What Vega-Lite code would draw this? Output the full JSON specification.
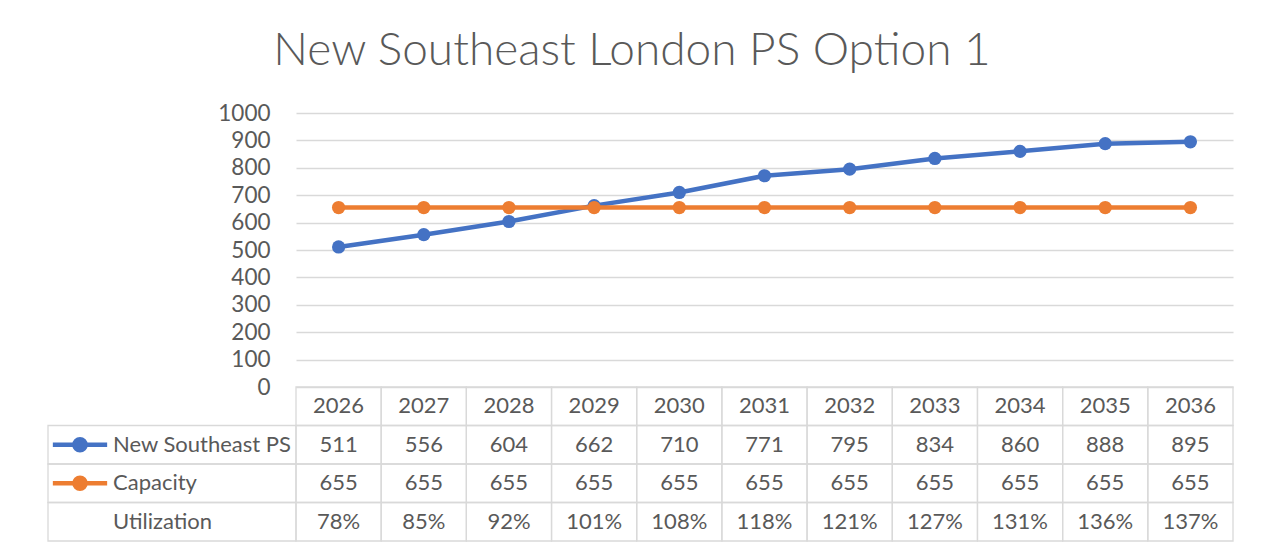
{
  "$schema": "https://vega.github.io/schema/vega-lite/v6.json",
  "padding": {"left": 44, "top": 28, "right": 30, "bottom": 10},
  "background": "white",
  "config": {"font": "Lato", "view": {"stroke": null}},
  "title": {"text": "New Southeast London PS Option 1", "fontSize": 46, "fontWeight": 300, "color": "#595959", "anchor": "middle", "offset": 27, "dx": -7},
  "datasets": {
    "years": [
      {"year": "2026", "New Southeast PS": 511, "Capacity": 655, "Utilization": "78%"},
      {"year": "2027", "New Southeast PS": 556, "Capacity": 655, "Utilization": "85%"},
      {"year": "2028", "New Southeast PS": 604, "Capacity": 655, "Utilization": "92%"},
      {"year": "2029", "New Southeast PS": 662, "Capacity": 655, "Utilization": "101%"},
      {"year": "2030", "New Southeast PS": 710, "Capacity": 655, "Utilization": "108%"},
      {"year": "2031", "New Southeast PS": 771, "Capacity": 655, "Utilization": "118%"},
      {"year": "2032", "New Southeast PS": 795, "Capacity": 655, "Utilization": "121%"},
      {"year": "2033", "New Southeast PS": 834, "Capacity": 655, "Utilization": "127%"},
      {"year": "2034", "New Southeast PS": 860, "Capacity": 655, "Utilization": "131%"},
      {"year": "2035", "New Southeast PS": 888, "Capacity": 655, "Utilization": "136%"},
      {"year": "2036", "New Southeast PS": 895, "Capacity": 655, "Utilization": "137%"}
    ],
    "header": [
      {"row": "New Southeast PS"},
      {"row": "Capacity"},
      {"row": "Utilization"}
    ]
  },
  "columns": 2,
  "bounds": "flush",
  "spacing": 0,
  "concat": [
    {
      "width": 248, "height": 274,
      "data": {"values": [{}]},
      "mark": {"type": "point", "opacity": 0},
      "encoding": {}
    },
    {
      "width": 937, "height": 274,
      "data": {"name": "years"},
      "transform": [{"fold": ["New Southeast PS", "Capacity"], "as": ["series", "value"]}],
      "encoding": {
        "x": {"field": "year", "type": "ordinal", "scale": {"type": "point", "padding": 0.5}, "axis": null},
        "y": {"field": "value", "type": "quantitative", "scale": {"domain": [0, 1000]},
              "axis": {"title": null, "format": "d", "values": [0,100,200,300,400,500,600,700,800,900,1000], "domain": false, "ticks": false, "grid": true, "gridColor": "#D9D9D9", "gridWidth": 1.3, "labelFontSize": 22.5, "labelColor": "#595959", "labelPadding": 26}}
      },
      "layer": [
        {
          "transform": [{"filter": "datum.series === 'New Southeast PS'"}],
          "mark": {"type": "line", "color": "#4472C4", "strokeWidth": 4.5, "strokeJoin": "round", "strokeCap": "round",
                   "point": {"filled": true, "size": 175, "color": "#4472C4", "opacity": 1}}
        },
        {
          "transform": [{"filter": "datum.series === 'Capacity'"}],
          "mark": {"type": "line", "color": "#ED7D31", "strokeWidth": 4.5, "strokeJoin": "round", "strokeCap": "round",
                   "point": {"filled": true, "size": 175, "color": "#ED7D31", "opacity": 1}}
        }
      ]
    },
    {
      "width": 248, "height": 154,
      "data": {"name": "header"},
      "encoding": {
        "y": {"field": "row", "type": "nominal", "scale": {"type": "band", "domain": ["Year", "New Southeast PS", "Capacity", "Utilization"], "paddingInner": 0, "paddingOuter": 0}, "axis": null}
      },
      "layer": [
        {"mark": {"type": "rect", "filled": false, "stroke": "#D9D9D9", "strokeWidth": 1.3}},
        {
          "transform": [{"filter": "datum.row !== 'Utilization'"}],
          "mark": {"type": "point", "shape": "M-4.8,0L4.8,0M1,0A1,1,0,1,1,-1,0A1,1,0,1,1,1,0Z", "size": 128, "strokeWidth": 4.3, "opacity": 1, "filled": true},
          "encoding": {
            "x": {"datum": "key", "type": "nominal", "scale": {"type": "point", "domain": ["key", "label"], "range": [32, 65], "padding": 0}, "axis": null},
            "fill": {"field": "row", "type": "nominal", "scale": {"domain": ["New Southeast PS", "Capacity"], "range": ["#4472C4", "#ED7D31"]}, "legend": null},
            "stroke": {"field": "row", "type": "nominal", "scale": {"domain": ["New Southeast PS", "Capacity"], "range": ["#4472C4", "#ED7D31"]}, "legend": null}
          }
        },
        {
          "mark": {"type": "text", "align": "left", "baseline": "middle", "fontSize": 22, "color": "#595959"},
          "encoding": {
            "x": {"datum": "label", "type": "nominal", "scale": {"type": "point", "domain": ["key", "label"], "range": [32, 65], "padding": 0}, "axis": null},
            "text": {"field": "row", "type": "nominal"}
          }
        }
      ]
    },
    {
      "width": 937, "height": 154,
      "data": {"name": "years"},
      "encoding": {
        "x": {"field": "year", "type": "ordinal", "scale": {"type": "band", "paddingInner": 0, "paddingOuter": 0}, "axis": null}
      },
      "layer": [
        {
          "mark": {"type": "rect", "filled": false, "stroke": "#D9D9D9", "strokeWidth": 1.3},
          "encoding": {"y": {"datum": "Year", "type": "nominal", "scale": {"type": "band", "domain": ["Year", "New Southeast PS", "Capacity", "Utilization"], "paddingInner": 0, "paddingOuter": 0}, "axis": null}}
        },
        {
          "mark": {"type": "text", "align": "center", "baseline": "middle", "fontSize": 22, "color": "#595959"},
          "encoding": {"y": {"datum": "Year", "type": "nominal"}, "text": {"field": "year", "type": "nominal"}}
        },
        {
          "transform": [{"fold": ["New Southeast PS", "Capacity", "Utilization"], "as": ["row", "cell"]}],
          "mark": {"type": "rect", "filled": false, "stroke": "#D9D9D9", "strokeWidth": 1.3},
          "encoding": {"y": {"field": "row", "type": "nominal"}}
        },
        {
          "transform": [{"fold": ["New Southeast PS", "Capacity", "Utilization"], "as": ["row", "cell"]}],
          "mark": {"type": "text", "align": "center", "baseline": "middle", "fontSize": 22, "color": "#595959"},
          "encoding": {"y": {"field": "row", "type": "nominal"}, "text": {"field": "cell", "type": "nominal"}}
        }
      ]
    }
  ]
}
